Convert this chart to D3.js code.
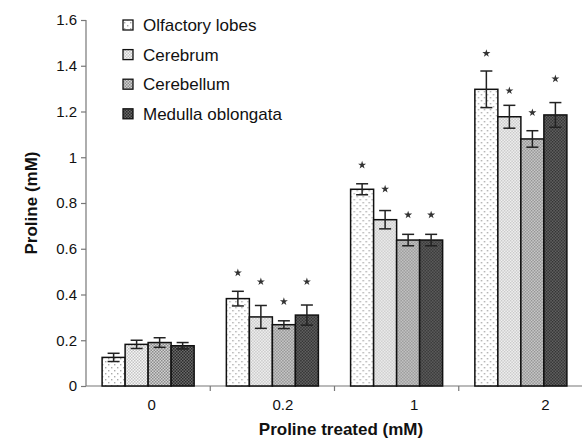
<!DOCTYPE html>
<html>
<head>
<meta charset="utf-8">
<script src="https://cdn.jsdelivr.net/npm/d3@7/dist/d3.min.js"></script>
<style>
html,body{margin:0;padding:0;background:#fff;}
svg{display:block;font-family:"Liberation Sans",Arial,Helvetica,sans-serif;}
</style>
</head>
<body>
<svg id="chart" width="582" height="442"></svg>
<script>
const categories = ["0", "0.2", "1", "2"];
const seriesNames = ["Olfactory lobes", "Cerebrum", "Cerebellum", "Medulla oblongata"];
const olfactory = [0.125, 0.382, 0.860, 1.297];
const cerebrum = [0.182, 0.302, 0.727, 1.177];
const cerebellum = [0.190, 0.268, 0.638, 1.080];
const medulla = [0.176, 0.310, 0.638, 1.185];
const olfactoryErr = [0.018, 0.032, 0.024, 0.080];
const cerebrumErr = [0.018, 0.050, 0.040, 0.050];
const cerebellumErr = [0.021, 0.017, 0.025, 0.036];
const medullaErr = [0.014, 0.044, 0.025, 0.054];
const olfactoryStar = [null, 0.495, 0.966, 1.454];
const cerebrumStar = [null, 0.456, 0.861, 1.291];
const cerebellumStar = [null, 0.369, 0.748, 1.195];
const medullaStar = [null, 0.456, 0.748, 1.343];
const yTicks = [0, 0.2, 0.4, 0.6, 0.8, 1, 1.2, 1.4, 1.6];

const values = [olfactory, cerebrum, cerebellum, medulla];
const errs = [olfactoryErr, cerebrumErr, cerebellumErr, medullaErr];
const stars = [olfactoryStar, cerebrumStar, cerebellumStar, medullaStar];

const svg = d3.select("#chart");
const defs = svg.append("defs");

// patterns
const p0 = defs.append("pattern").attr("id", "pat0").attr("patternUnits", "userSpaceOnUse")
  .attr("width", 6).attr("height", 6);
p0.append("rect").attr("width", 6).attr("height", 6).attr("fill", "#fff");
p0.append("rect").attr("x", 1).attr("y", 1).attr("width", 1.4).attr("height", 1.4).attr("fill", "#aaa");
p0.append("rect").attr("x", 4).attr("y", 4).attr("width", 1.4).attr("height", 1.4).attr("fill", "#aaa");

function checker(id, c1, c2) {
  const p = defs.append("pattern").attr("id", id).attr("patternUnits", "userSpaceOnUse")
    .attr("width", 3).attr("height", 3);
  p.append("rect").attr("width", 3).attr("height", 3).attr("fill", c1);
  p.append("rect").attr("width", 1.5).attr("height", 1.5).attr("fill", c2);
  p.append("rect").attr("x", 1.5).attr("y", 1.5).attr("width", 1.5).attr("height", 1.5).attr("fill", c2);
}
checker("pat1", "#f6f6f6", "#c4c4c4");
checker("pat2", "#d2d2d2", "#8c8c8c");
checker("pat3", "#6a6a6a", "#2c2c2c");

const fills = ["url(#pat0)", "url(#pat1)", "url(#pat2)", "url(#pat3)"];

const x0 = 86, x1 = 583, yTop = 20, yBot = 386;
const x = d3.scaleBand().domain(categories).range([x0, x1]).paddingInner(0).paddingOuter(0);
const xs = d3.scaleBand().domain(d3.range(4)).range([0, x.bandwidth()]).paddingInner(0).paddingOuter(0.7);
const xLabel = d3.scaleBand().domain(categories).range([x0, 611]);
const y = d3.scaleLinear().domain([0, 1.6]).range([yBot, yTop]);

// axes
const axisColor = "#777";
svg.append("line").attr("x1", x0).attr("x2", x0).attr("y1", yTop).attr("y2", yBot)
  .attr("stroke", axisColor).attr("stroke-width", 1.2);
svg.append("line").attr("x1", x0).attr("x2", x1).attr("y1", yBot).attr("y2", yBot)
  .attr("stroke", axisColor).attr("stroke-width", 1.2);

const yAxis = d3.axisLeft(y).tickValues(yTicks).tickSize(5).tickPadding(4)
  .tickFormat(d => String(d));
const gy = svg.append("g").attr("transform", `translate(${x0},0)`).call(yAxis);
gy.select(".domain").remove();
gy.selectAll(".tick line").attr("stroke", axisColor).attr("stroke-width", 1.2);
gy.selectAll(".tick text").attr("font-size", 15).attr("fill", "#111")
  .style("font-family", '"Liberation Sans",Arial,sans-serif');

// category boundary ticks
categories.slice(1).forEach(c => {
  svg.append("line").attr("x1", x(c)).attr("x2", x(c)).attr("y1", yBot).attr("y2", yBot + 5)
    .attr("stroke", axisColor).attr("stroke-width", 1.2);
});
const xAxis = d3.axisBottom(xLabel).tickSize(0).tickPadding(13);
const gx = svg.append("g").attr("transform", `translate(0,${yBot})`).call(xAxis);
gx.select(".domain").remove();
gx.selectAll(".tick text").attr("font-size", 15).attr("fill", "#111")
  .style("font-family", '"Liberation Sans",Arial,sans-serif');

// bars
const groups = svg.append("g").selectAll("g").data(categories).join("g")
  .attr("transform", c => `translate(${x(c)},0)`);

groups.each(function(c, ci) {
  const g = d3.select(this);
  for (let s = 0; s < 4; s++) {
    const v = values[s][ci];
    const bx = xs(s), bw = xs.bandwidth();
    g.append("rect").attr("x", bx).attr("y", y(v)).attr("width", bw).attr("height", y(0) - y(v))
      .attr("fill", fills[s]).attr("stroke", "#111").attr("stroke-width", 1.5);
    const e = errs[s][ci];
    const cx = bx + bw / 2;
    g.append("line").attr("x1", cx).attr("x2", cx).attr("y1", y(v + e)).attr("y2", y(v - e))
      .attr("stroke", "#222").attr("stroke-width", 1.5);
    [v + e, v - e].forEach(t => {
      g.append("line").attr("x1", cx - 6).attr("x2", cx + 6).attr("y1", y(t)).attr("y2", y(t))
        .attr("stroke", "#222").attr("stroke-width", 1.5);
    });
    const st = stars[s][ci];
    if (st != null) {
      g.append("path").attr("d", d3.symbol(d3.symbolStar).size(20)())
        .attr("transform", `translate(${cx},${y(st)})`).attr("fill", "#333");
    }
  }
});

// legend
const legend = svg.append("g");
seriesNames.forEach((n, i) => {
  const ly = 25 + i * 29.6;
  legend.append("rect").attr("x", 123).attr("y", ly - 5).attr("width", 10).attr("height", 10)
    .attr("fill", fills[i]).attr("stroke", "#111").attr("stroke-width", 1.3);
  legend.append("text").attr("x", 143).attr("y", ly + 6).attr("font-size", 17)
    .attr("fill", "#111").text(n);
});

// titles
svg.append("text").attr("transform", `translate(37,${(yTop + yBot) / 2}) rotate(-90)`)
  .attr("text-anchor", "middle").attr("font-size", 17).attr("font-weight", "bold")
  .attr("fill", "#111").text("Proline (mM)");
svg.append("text").attr("x", 341).attr("y", 435).attr("text-anchor", "middle")
  .attr("font-size", 17).attr("font-weight", "bold").attr("fill", "#111")
  .text("Proline treated (mM)");
</script>
</body>
</html>
